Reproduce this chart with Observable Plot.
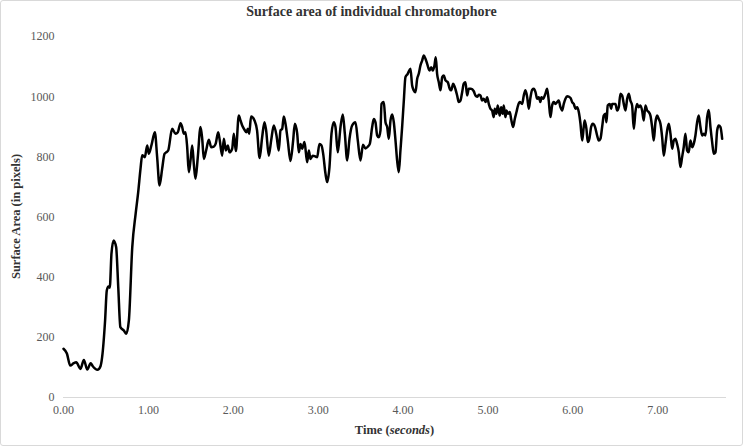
<!DOCTYPE html>
<html><head><meta charset="utf-8">
<script src="https://cdn.jsdelivr.net/npm/d3@7"></script>
<script src="https://cdn.jsdelivr.net/npm/@observablehq/plot@0.6"></script>
<style>
html,body{margin:0;padding:0;background:#fff;overflow:hidden;}
#wrap{position:relative;width:743px;height:446px;}
#frame{position:absolute;left:0;top:0;width:743px;height:446px;box-sizing:border-box;border:1px solid #d9d9d9;border-radius:3px;pointer-events:none;}
#title{height:28px;box-sizing:border-box;padding-top:4px;line-height:24px;text-align:center;font:bold 14px "Liberation Serif",serif;color:#333;}
#chart svg{display:block;}
</style></head><body>
<div id="wrap"><div id="title">Surface area of individual chromatophore</div><div id="chart"></div><div id="frame"></div></div>
<script>
const time = [0,0.04,0.08,0.12,0.15,0.2,0.24,0.28,0.32,0.345,0.4,0.436,0.455,0.49,0.51,0.53,0.545,0.565,0.59,0.62,0.645,0.67,0.71,0.74,0.77,0.81,0.85,0.88,0.907,0.927,0.958,0.986,1.005,1.037,1.076,1.103,1.131,1.162,1.19,1.21,1.233,1.28,1.319,1.347,1.378,1.398,1.417,1.437,1.457,1.476,1.496,1.516,1.535,1.555,1.582,1.614,1.634,1.653,1.68,1.712,1.74,1.771,1.794,1.822,1.841,1.869,1.889,1.912,1.936,1.955,1.987,2.006,2.03,2.065,2.085,2.105,2.132,2.155,2.171,2.187,2.21,2.25,2.28,2.31,2.34,2.367,2.387,2.418,2.446,2.477,2.509,2.536,2.556,2.576,2.595,2.615,2.642,2.674,2.705,2.725,2.753,2.772,2.792,2.811,2.839,2.87,2.89,2.909,2.937,2.968,2.988,3.015,3.039,3.059,3.086,3.106,3.133,3.157,3.184,3.204,3.231,3.263,3.29,3.314,3.342,3.369,3.4,3.439,3.467,3.498,3.528,3.557,3.585,3.608,3.636,3.655,3.675,3.695,3.714,3.734,3.746,3.773,3.793,3.813,3.832,3.852,3.872,3.891,3.911,3.93,3.95,3.969,3.989,4.009,4.028,4.055,4.087,4.107,4.126,4.146,4.166,4.185,4.205,4.225,4.244,4.264,4.284,4.311,4.331,4.35,4.37,4.385,4.401,4.421,4.441,4.461,4.48,4.5,4.527,4.55,4.567,4.59,4.609,4.637,4.656,4.676,4.696,4.715,4.735,4.755,4.774,4.8,4.833,4.853,4.873,4.892,4.912,4.931,4.951,4.971,4.99,5.01,5.029,5.049,5.068,5.08,5.1,5.115,5.139,5.155,5.174,5.186,5.206,5.218,5.238,5.257,5.273,5.297,5.316,5.336,5.355,5.375,5.403,5.422,5.442,5.462,5.481,5.501,5.521,5.54,5.56,5.58,5.599,5.618,5.63,5.65,5.677,5.697,5.716,5.736,5.756,5.775,5.795,5.815,5.834,5.854,5.874,5.893,5.913,5.933,5.972,5.992,6.011,6.031,6.051,6.07,6.09,6.11,6.128,6.14,6.16,6.176,6.196,6.215,6.235,6.262,6.286,6.305,6.325,6.345,6.364,6.384,6.396,6.411,6.435,6.451,6.463,6.502,6.522,6.541,6.561,6.581,6.6,6.62,6.64,6.659,6.678,6.698,6.718,6.737,6.757,6.776,6.796,6.816,6.835,6.855,6.875,6.894,6.914,6.934,6.953,6.973,6.993,7.012,7.032,7.052,7.071,7.091,7.111,7.13,7.15,7.17,7.189,7.208,7.228,7.248,7.267,7.287,7.306,7.326,7.346,7.365,7.385,7.405,7.424,7.444,7.464,7.483,7.503,7.523,7.542,7.562,7.582,7.601,7.621,7.641,7.66,7.68,7.7,7.719,7.739,7.759];
const area = [162,146,106,114,117,95,125,93,114,104,92,104,134,256,356,369,365,478,522,500,367,234,223,212,256,500,611,683,760,805,799,838,810,840,882,800,705,760,810,815,821,893,877,882,912,899,877,882,832,749,788,838,777,727,799,899,860,793,821,857,832,834,845,882,854,804,860,821,838,815,827,877,819,937,921,904,890,882,893,877,934,921,888,796,865,915,888,804,854,904,871,821,888,893,934,910,854,786,854,910,877,815,843,827,849,782,821,793,804,801,799,843,838,810,744,716,766,877,915,899,815,899,941,877,788,860,904,915,854,788,840,828,834,843,899,926,915,871,865,888,976,982,915,899,860,921,941,915,854,788,749,821,899,987,1065,1076,1093,1037,1021,1015,1059,1076,1104,1120,1137,1126,1109,1087,1098,1087,1104,1131,1076,1048,1021,1065,1070,1054,1048,1026,1021,1043,1032,1004,982,987,1015,1043,1048,1004,1026,1026,1018,1004,1000,1006,1004,987,993,982,998,976,960,954,932,960,943,971,937,965,943,971,932,954,943,949,926,899,926,949,971,982,976,1004,1021,998,960,998,1023,1026,1015,993,998,982,998,993,1010,1026,987,932,971,982,976,982,987,965,954,976,993,1001,996,982,976,960,965,949,910,854,899,921,893,849,862,899,910,899,871,854,860,899,937,943,915,971,976,960,976,976,954,965,1010,1004,976,954,993,1010,987,971,893,949,976,965,971,954,921,971,954,949,937,899,854,915,937,926,910,865,804,843,888,910,877,827,854,860,843,815,766,799,832,877,821,815,854,832,843,871,915,937,899,871,877,871,932,956,899,849,810,815,888,904,899,860];
const xTicks = [0,1,2,3,4,5,6,7];
const yTicks = [0,200,400,600,800,1000,1200];
const xLabel = "Time (";
const xLabelItalic = "seconds";
const yLabel = "Surface Area (in pixels)";

const data = time.map((t, i) => ({t, a: area[i]}));
const W = 743, H = 418, mt = 8, mb = 49, ml = 63, mr = 17;
const plot = Plot.plot({
  width: W, height: H, marginTop: mt, marginBottom: mb, marginLeft: ml, marginRight: mr,
  style: {fontFamily: '"Liberation Serif", serif', fontSize: "12px", color: "#595959", background: "#fff"},
  x: {domain: [0, 7.81]},
  y: {domain: [0, 1200]},
  marks: [
    Plot.ruleY([0], {stroke: "#d9d9d9", strokeWidth: 1}),
    Plot.axisX({ticks: xTicks, tickFormat: d3.format(".2f"), tickSize: 0, tickPadding: 8, label: null}),
    Plot.axisY({ticks: yTicks, tickSize: 0, tickPadding: 9, label: null, tickFormat: d => String(d)}),
    Plot.line(data, {x: "t", y: "a", stroke: "#000", strokeWidth: 2.5, curve: "monotone-x", strokeLinejoin: "round"})
  ]
});
document.getElementById("chart").appendChild(plot);
const svg = d3.select(plot);
const xt = svg.append("text")
  .attr("x", ml + (W - ml - mr) / 2).attr("y", H - mb + 34)
  .attr("text-anchor", "middle").attr("dominant-baseline", "middle")
  .style("font", 'bold 12.5px "Liberation Serif", serif').style("fill", "#333");
xt.append("tspan").text(xLabel);
xt.append("tspan").style("font-style", "italic").text(xLabelItalic);
xt.append("tspan").text(")");
svg.append("text")
  .attr("transform", `translate(17,${mt + (H - mt - mb) / 2}) rotate(-90)`)
  .attr("text-anchor", "middle").attr("dominant-baseline", "middle")
  .style("font", 'bold 12.5px "Liberation Serif", serif').style("fill", "#333")
  .text(yLabel);
</script>
</body></html>
